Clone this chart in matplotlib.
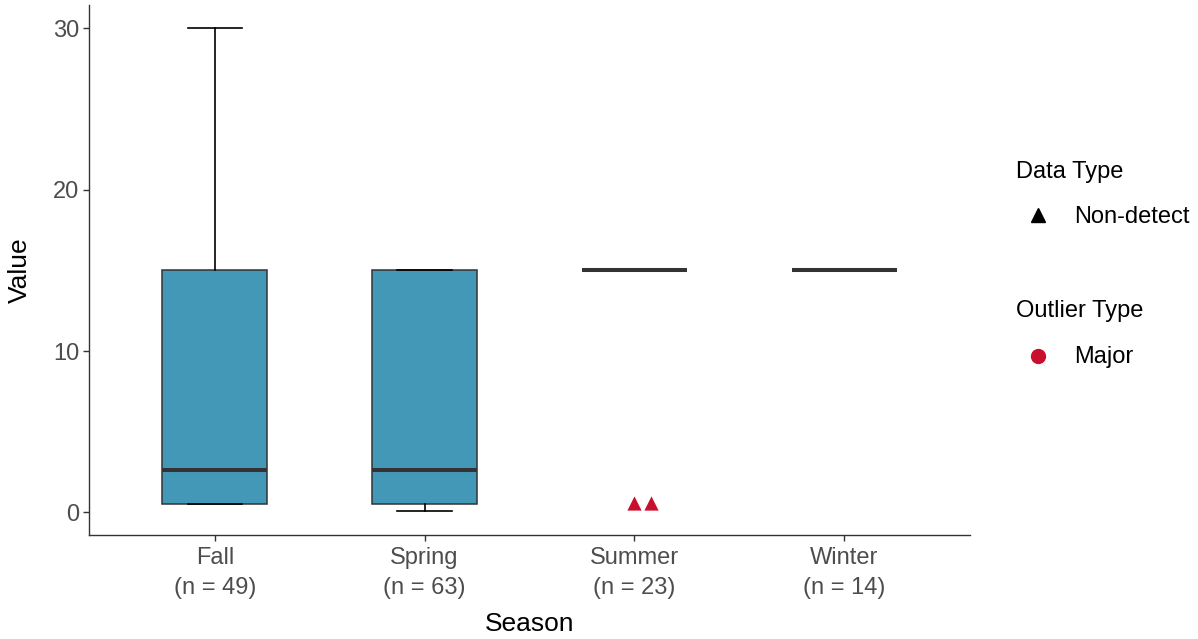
import matplotlib
matplotlib.use("Agg")
import matplotlib.pyplot as plt
from matplotlib.lines import Line2D

plt.rcParams['font.family'] = ['Liberation Sans', 'DejaVu Sans']

# data
seasons = ["Fall", "Spring", "Summer", "Winter"]
n_obs = [49, 63, 23, 14]
whislo = [0.5, 0.1, 15, 15]
q1 = [0.5, 0.5, 15, 15]
med = [2.6, 2.6, 15, 15]
q3 = [15, 15, 15, 15]
whishi = [30, 15, 15, 15]

# non-detect major outliers (Summer), small jitter as in the picture
out_season = [3, 3]
out_jitter = [0.0, 0.08]
out_value = [0.6, 0.6]

box_col = "#4398B7"
edge_col = "#333333"
red = "#C8102E"
grey = "#4D4D4D"

fig = plt.figure(figsize=(11.98, 6.39), dpi=100)
ax = fig.add_axes([0.0743, 0.1628, 0.7354, 0.8292])

stats = []
for i in range(len(seasons)):
    stats.append(dict(whislo=whislo[i], q1=q1[i], med=med[i], q3=q3[i],
                      whishi=whishi[i], fliers=[]))

ax.bxp(stats, positions=range(1, len(seasons) + 1), widths=0.5,
       patch_artist=True, showfliers=False,
       boxprops=dict(facecolor=box_col, edgecolor=edge_col, linewidth=1.1),
       medianprops=dict(color=edge_col, linewidth=2.9),
       whiskerprops=dict(color="black", linewidth=1.2),
       capprops=dict(color="black", linewidth=1.2),
       capwidths=0.26)

xs = [s + j for s, j in zip(out_season, out_jitter)]
ax.scatter(xs, out_value, marker="^", s=105, color=red, zorder=5, linewidths=0)

ax.set_xlim(0.4, 4.6)
ax.set_ylim(-1.4, 31.45)
ax.set_yticks([0, 10, 20, 30])
ax.set_xticks(range(1, len(seasons) + 1))
ax.set_xticklabels([f"{s}\n(n = {n})" for s, n in zip(seasons, n_obs)],
                   linespacing=1.45)

for sp in ["top", "right"]:
    ax.spines[sp].set_visible(False)
for sp in ["left", "bottom"]:
    ax.spines[sp].set_color(edge_col)
    ax.spines[sp].set_linewidth(1.0)
ax.tick_params(colors=edge_col, labelcolor=grey, labelsize=17, length=4, width=1.0, pad=3)
ax.tick_params(axis="x", pad=5)

ax.set_xlabel("Season", fontsize=19, labelpad=9)
ax.set_ylabel("Value", fontsize=19, labelpad=15)

# legends, placed by hand like the ggplot guide boxes
def fy(py):
    return 1 - py / 639

def fx(px):
    return px / 1198

fig.text(fx(1016), fy(172), "Data Type", fontsize=17, va="center", ha="left")
fig.add_artist(Line2D([fx(1038)], [fy(215)], marker="^", color="black",
                      linestyle="none", markersize=10, transform=fig.transFigure))
fig.text(fx(1074), fy(217), "Non-detect", fontsize=17, va="center", ha="left")

fig.text(fx(1016), fy(311), "Outlier Type", fontsize=17, va="center", ha="left")
fig.add_artist(Line2D([fx(1038)], [fy(356)], marker="o", color=red,
                      linestyle="none", markersize=10, transform=fig.transFigure))
fig.text(fx(1074), fy(357), "Major", fontsize=17, va="center", ha="left")

fig.savefig("out.png", dpi=100)
